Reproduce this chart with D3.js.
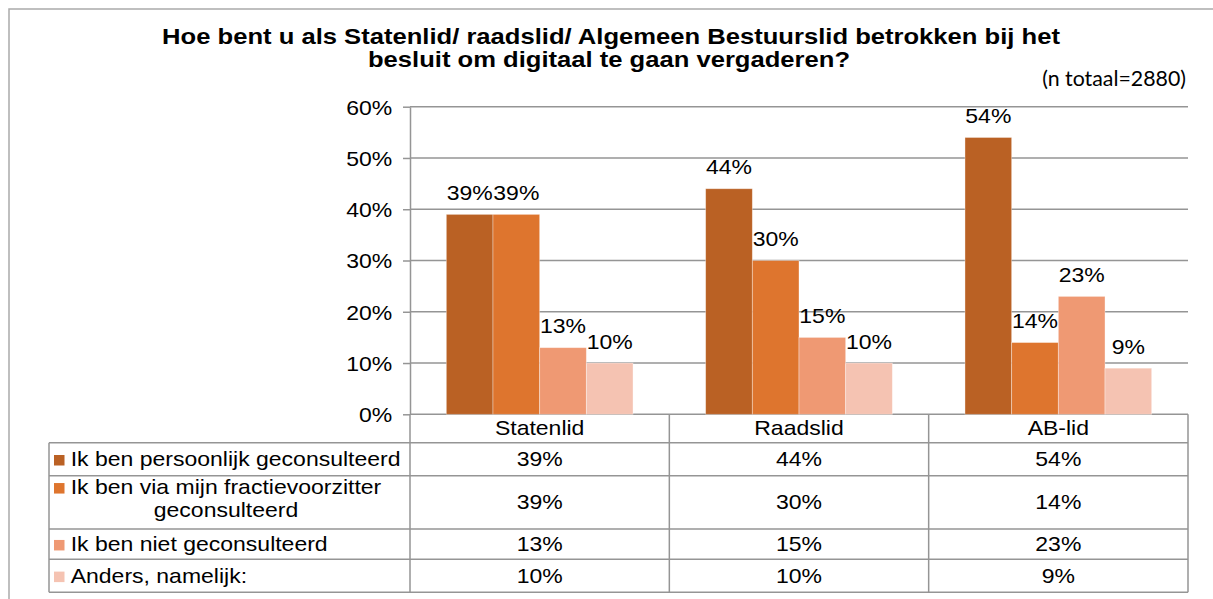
<!DOCTYPE html>
<html>
<head>
<meta charset="utf-8">
<script src="https://cdn.jsdelivr.net/npm/d3@7"></script>
<style>
  html, body { margin: 0; padding: 0; background: #ffffff; }
  svg { display: block; }
  text { font-family: "Liberation Sans", Arial, Helvetica, sans-serif; fill: #000; }
</style>
</head>
<body>
<svg id="chart" width="1213" height="599"></svg>
<script>
// ---- data -------------------------------------------------------------
const categories = ["Statenlid", "Raadslid", "AB-lid"];
const seriesLabels = [
  ["Ik ben persoonlijk geconsulteerd"],
  ["Ik ben via mijn fractievoorzitter", "geconsulteerd"],
  ["Ik ben niet geconsulteerd"],
  ["Anders, namelijk:"]
];
const persoonlijk          = [39, 44, 54];
const viaFractievoorzitter = [39, 30, 14];
const nietGeconsulteerd    = [13, 15, 23];
const anders               = [10, 10, 9];
const yTicks = [0, 10, 20, 30, 40, 50, 60];
const seriesColors = ["#BA6124", "#DE752E", "#EF9973", "#F5C3B2"];
const titleLines = [
  "Hoe bent u als Statenlid/ raadslid/ Algemeen Bestuurslid betrokken bij het",
  "besluit om digitaal te gaan vergaderen?"
];
const subtitle = "(n totaal=2880)";

// ---- layout -----------------------------------------------------------
const W = 1213, H = 599;
const SX = 1.15;                 // horizontal text stretch
const FS = 20;                   // body font size
const GRID = "#959595";
const plot = { left: 410, right: 1188, top: 106.7, bottom: 414.3 };
const tableLeft = 49;
const catRowBottom = 442.7;
const rowHeights = [33, 53.3, 30.3, 33];

const series = [persoonlijk, viaFractievoorzitter, nietGeconsulteerd, anders];

const svg = d3.select("#chart");

const x0 = d3.scaleBand().domain(categories).range([plot.left, plot.right]);
const x1 = d3.scaleBand().domain(d3.range(series.length))
  .range([0, x0.bandwidth()]).paddingInner(0).paddingOuter(0.778);
const y = d3.scaleLinear().domain([0, 60]).range([plot.bottom, plot.top]);

function sText(parent, x, yy, str, opts = {}) {
  const sx = opts.sx ?? SX;
  const t = parent.append("text")
    .attr("transform", `translate(${x},${yy}) scale(${sx},1)`)
    .attr("text-anchor", opts.anchor || "start")
    .attr("font-size", opts.size || FS)
    .attr("font-weight", opts.weight || "normal")
    .text(str);
  if (opts.family) t.style("font-family", opts.family);
  return t;
}
function fitText(parent, x, yy, str, width, opts = {}) {
  const t = sText(parent, x, yy, str, Object.assign({}, opts, { sx: 1 }));
  const w = t.node().getComputedTextLength();
  t.attr("transform", `translate(${x},${yy}) scale(${width / w},1)`);
  return width / w;
}

// outer frame
svg.append("rect")
  .attr("x", 9).attr("y", 9).attr("width", W).attr("height", H)
  .attr("fill", "none").attr("stroke", "#ababab").attr("stroke-width", 1.5);

// title
const titleSx = fitText(svg, 611, 43.5, titleLines[0], 898, { anchor: "middle", size: 22.3, weight: "bold" });
sText(svg, 609, 66.5, titleLines[1], { anchor: "middle", size: 22.3, weight: "bold", sx: titleSx });
fitText(svg, 1186, 86, subtitle, 144, { anchor: "end", size: 21, family: "Lato, 'Open Sans', sans-serif" });

// gridlines
svg.append("g").selectAll("line").data(yTicks).join("line")
  .attr("x1", plot.left).attr("x2", plot.right)
  .attr("y1", d => y(d)).attr("y2", d => y(d))
  .attr("stroke", GRID).attr("stroke-width", 1.5);

// y axis
const yAxis = svg.append("g").attr("transform", `translate(${plot.left},0)`)
  .call(d3.axisLeft(y).tickValues(yTicks).tickFormat(d => d + "%")
    .tickSizeInner(7).tickSizeOuter(0).tickPadding(8.4));
yAxis.select(".domain").attr("stroke", GRID).attr("stroke-width", 1.5);
yAxis.selectAll(".tick line").attr("stroke", GRID).attr("stroke-width", 1.5);
yAxis.selectAll(".tick text")
  .attr("font-size", FS).attr("dy", "0.365em")
  .attr("transform", `scale(${SX},1)`)
  .style("font-family", "'Liberation Sans', Arial, sans-serif").attr("fill", "#000");

// bars
const barG = svg.append("g");
series.forEach((vals, s) => {
  barG.selectAll(null).data(vals).join("rect")
    .attr("x", (d, i) => x0(categories[i]) + x1(s))
    .attr("y", d => y(d))
    .attr("width", x1.bandwidth())
    .attr("height", d => y(0) - y(d))
    .attr("fill", seriesColors[s])
    .attr("stroke", "#ffffff").attr("stroke-opacity", 0.45).attr("stroke-width", 0.8);
});

// data labels
const lblG = svg.append("g");
series.forEach((vals, s) => {
  vals.forEach((v, i) => {
    sText(lblG, x0(categories[i]) + x1(s) + x1.bandwidth() / 2, y(v) - 14.5, v + "%", { anchor: "middle" });
  });
});

// data table
const tbl = svg.append("g");
const rowTops = [catRowBottom];
rowHeights.forEach(h => rowTops.push(rowTops[rowTops.length - 1] + h));
const tableBottom = rowTops[rowTops.length - 1];

// horizontal rules
rowTops.forEach(ry => {
  tbl.append("line")
    .attr("x1", tableLeft).attr("x2", plot.right)
    .attr("y1", ry).attr("y2", ry)
    .attr("stroke", GRID).attr("stroke-width", 1.5);
});
// vertical rules
const colEdges = categories.map(c => x0(c)).concat([plot.right]);
colEdges.forEach(cx => {
  tbl.append("line")
    .attr("x1", cx).attr("x2", cx)
    .attr("y1", y(0)).attr("y2", tableBottom)
    .attr("stroke", GRID).attr("stroke-width", 1.5);
});
tbl.append("line")
  .attr("x1", tableLeft).attr("x2", tableLeft)
  .attr("y1", catRowBottom).attr("y2", tableBottom)
  .attr("stroke", GRID).attr("stroke-width", 1.5);

// category names
categories.forEach(c => {
  sText(tbl, x0(c) + x0.bandwidth() / 2, (y(0) + catRowBottom) / 2 + 6.8, c, { anchor: "middle" });
});

// rows: legend key + values
series.forEach((vals, s) => {
  const top = rowTops[s], bot = rowTops[s + 1];
  const mid = (top + bot) / 2;
  const lines = seriesLabels[s];
  const base = lines.length > 1 ? mid - 8.3 : mid + 6.8;
  tbl.append("rect")
    .attr("x", 54).attr("y", base - 11).attr("width", 10.5).attr("height", 10.5)
    .attr("fill", seriesColors[s]);
  sText(tbl, 70.7, base, lines[0]);
  if (lines.length > 1) {
    sText(tbl, (tableLeft + plot.left) / 2 - 3.5, base + 22.6, lines[1], { anchor: "middle" });
  }
  vals.forEach((v, i) => {
    sText(tbl, x0(categories[i]) + x0.bandwidth() / 2, mid + 6.8, v + "%", { anchor: "middle" });
  });
});
</script>
</body>
</html>
